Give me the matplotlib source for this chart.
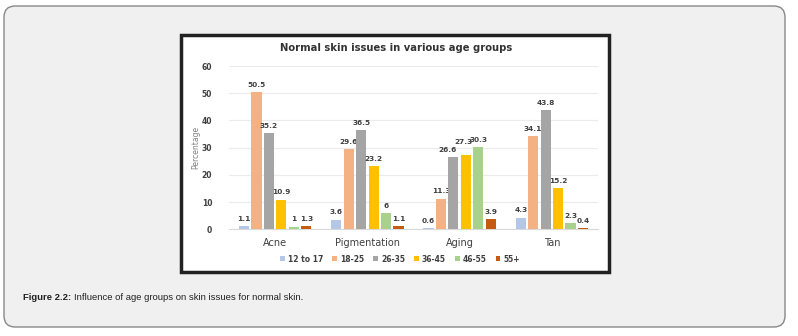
import matplotlib
matplotlib.use("Agg")
import matplotlib.pyplot as plt
from matplotlib.patches import FancyBboxPatch, Rectangle
from matplotlib import font_manager
import numpy as np

categories = ["Acne", "Pigmentation", "Aging", "Tan"]
age_groups = ["12 to 17", "18-25", "26-35", "36-45", "46-55", "55+"]
v_12_17 = [1.1, 3.6, 0.6, 4.3]
v_18_25 = [50.5, 29.6, 11.3, 34.1]
v_26_35 = [35.2, 36.5, 26.6, 43.8]
v_36_45 = [10.9, 23.2, 27.3, 15.2]
v_46_55 = [1, 6, 30.3, 2.3]
v_55p = [1.3, 1.1, 3.9, 0.4]
series = [v_12_17, v_18_25, v_26_35, v_36_45, v_46_55, v_55p]
colors = ["#B4C7E7", "#F4B183", "#A5A5A5", "#FFC000", "#A9D18E", "#C55A11"]
labels_txt = [["1.1", "3.6", "0.6", "4.3"], ["50.5", "29.6", "11.3", "34.1"],
              ["35.2", "36.5", "26.6", "43.8"], ["10.9", "23.2", "27.3", "15.2"],
              ["1", "6", "30.3", "2.3"], ["1.3", "1.1", "3.9", "0.4"]]
# (series index, category index) -> label nudge in points (as placed in the reference)
label_nudge = {(2, 2): (-4, 0), (3, 2): (-2, 4)}

W, H = 798, 336
fig = plt.figure(figsize=(W / 100, H / 100), dpi=100)
fig.patch.set_facecolor("white")

def fx(px):
    return px / W

def fy(py):
    return 1 - py / H

outer = FancyBboxPatch((fx(4), fy(327)), fx(781), (327 - 6) / H,
                       boxstyle="round,pad=0,rounding_size=0.014",
                       transform=fig.transFigure, facecolor="#F0F0F0",
                       edgecolor="#888888", linewidth=1.0, mutation_aspect=W / H,
                       zorder=0)
fig.patches.append(outer)

inner = Rectangle((fx(181), fy(272)), fx(428), (272 - 35) / H,
                  transform=fig.transFigure, facecolor="white",
                  edgecolor="#222222", linewidth=2.5, zorder=0.5)
fig.patches.append(inner)

ax = fig.add_axes([fx(229), fy(229.3), fx(369), (229.3 - 66) / H])
ax.set_zorder(2)
ax.set_facecolor("white")
x = np.arange(len(categories))
step = 0.135
bw = 0.11
for i, (vals, col) in enumerate(zip(series, colors)):
    xs = x + (i - 2.5) * step
    bars = ax.bar(xs, vals, width=bw, color=col, label=age_groups[i], zorder=3)
    for j, (b, t) in enumerate(zip(bars, labels_txt[i])):
        dx, dy = label_nudge.get((i, j), (0, 0))
        ax.annotate(t, (b.get_x() + b.get_width() / 2, b.get_height()),
                    xytext=(dx, 3 + dy), textcoords="offset points", ha="center",
                    va="bottom", fontsize=5.3, fontweight="bold", color="#404040")

ax.set_xlim(-0.5, 3.5)
ax.set_ylim(0, 60)
ax.set_yticks(range(0, 61, 10))
ax.set_yticklabels([str(v) for v in range(0, 61, 10)], fontsize=5.5,
                   fontweight="bold", color="#404040")
ax.set_xticks(x)
ax.set_xticklabels(categories, fontsize=7, color="#404040")
ax.tick_params(axis="both", length=0)
ax.tick_params(axis="y", pad=12)
ax.tick_params(axis="x", pad=6)
ax.grid(axis="y", color="#EBEBEB", linewidth=0.8, zorder=0)
for s in ["top", "right", "left"]:
    ax.spines[s].set_visible(False)
ax.spines["bottom"].set_color("#D9D9D9")
ax.set_ylabel("Percentage", fontsize=5.5, color="#808080", labelpad=1)

fig.text(fx(396), fy(48), "Normal skin issues in various age groups",
         ha="center", va="center", fontsize=7.2, fontweight="bold", color="#333333")

leg = ax.legend(loc="center", bbox_to_anchor=(fx(400), fy(259)),
                bbox_transform=fig.transFigure, ncol=6, frameon=False,
                fontsize=5.5, handlelength=0.6, handleheight=0.6,
                columnspacing=1.2, handletextpad=0.4)
for t in leg.get_texts():
    t.set_fontweight("bold")
    t.set_color("#404040")

names = {f.name for f in font_manager.fontManager.ttflist}
capfam = "Liberation Sans Narrow" if "Liberation Sans Narrow" in names else "Liberation Sans"
cap_size = 6.8
t1 = fig.text(fx(23), fy(297), "Figure 2.2:", ha="left", va="center",
              fontsize=cap_size, fontweight="bold", family=capfam,
              fontstretch="condensed", color="#222222")
fig.canvas.draw()
bb = t1.get_window_extent()
fig.text(bb.x1 / W + fx(3), fy(297), "Influence of age groups on skin issues for normal skin.",
         ha="left", va="center", fontsize=cap_size, family=capfam,
         fontstretch="condensed", color="#222222")

fig.savefig("out.png", dpi=100, facecolor="white")
